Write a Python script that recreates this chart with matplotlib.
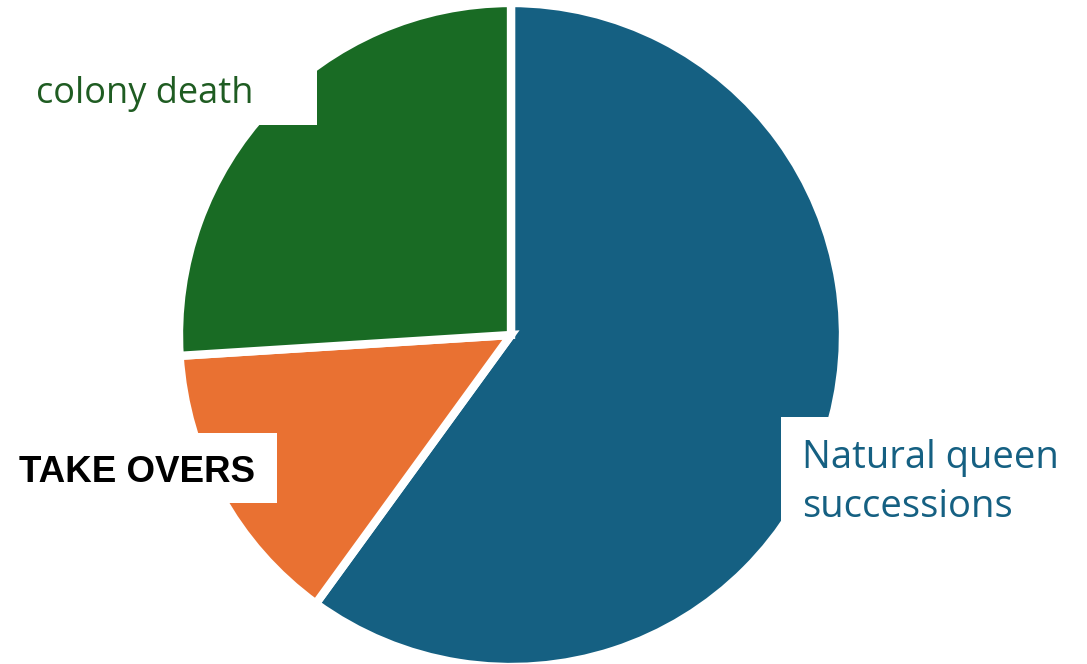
import matplotlib.pyplot as plt
from matplotlib.patches import Rectangle

# Outcome shares for the colonies
categories = ["Natural queen\nsuccessions", "TAKE OVERS", "colony death"]
shares = [60, 14, 26]
colors = ["#156082", "#E97132", "#196B24"]

W, H = 1087, 664
fig = plt.figure(figsize=(W / 100, H / 100), dpi=100)
ax = fig.add_axes([0, 0, 1, 1])

ax.pie(shares, colors=colors, startangle=90, counterclock=False,
       center=(511, H - 335), radius=332,
       wedgeprops=dict(edgecolor="white", linewidth=6))

# pie() rescales the axes, so pin the pixel frame afterwards
ax.set_xlim(0, W)
ax.set_ylim(0, H)
ax.set_aspect("equal")
ax.axis("off")

# white label boxes sitting on top of the pie
ax.add_patch(Rectangle((20, H - 125), 297, 57, facecolor="white", edgecolor="none", zorder=3))
ax.add_patch(Rectangle((0, H - 503), 277, 70, facecolor="white", edgecolor="none", zorder=3))
ax.add_patch(Rectangle((781, H - 535), 306, 118, facecolor="white", edgecolor="none", zorder=3))

ax.text(36, H - 103, categories[2], color="#1F5C22", fontsize=26,
        family="Open Sans", ha="left", va="baseline", zorder=4)
ax.text(19, H - 482, categories[1], color="black", fontsize=26.5,
        family="Liberation Sans", fontweight="bold", ha="left", va="baseline", zorder=4)
ax.text(802, H - 468, "Natural queen", color=colors[0], fontsize=27.5,
        family="Open Sans", ha="left", va="baseline", zorder=4)
ax.text(802, H - 517, "successions", color=colors[0], fontsize=27.5,
        family="Open Sans", ha="left", va="baseline", zorder=4)

fig.savefig("out.png", dpi=100, facecolor="white")
